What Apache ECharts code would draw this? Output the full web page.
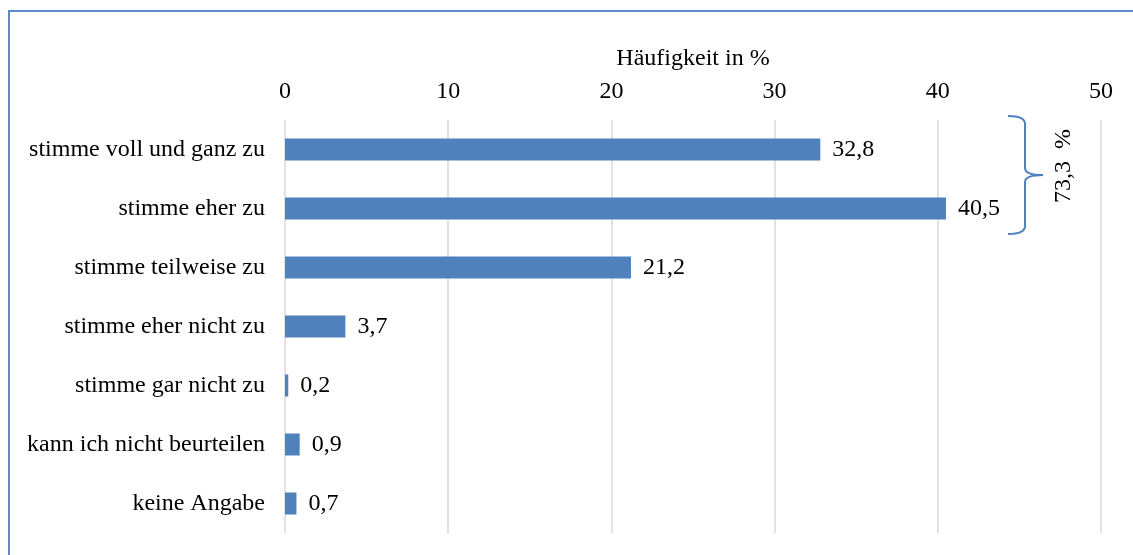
<!DOCTYPE html>
<html>
<head>
<meta charset="utf-8">
<script src="https://cdn.jsdelivr.net/npm/echarts@6/dist/echarts.min.js"></script>
<style>
  html, body { margin: 0; padding: 0; background: #fff; }
  #main { width: 1133px; height: 555px; }
</style>
</head>
<body>
<div id="main"></div>
<script>
// Kategorien (von oben nach unten)
var categories = [
  'stimme voll und ganz zu',
  'stimme eher zu',
  'stimme teilweise zu',
  'stimme eher nicht zu',
  'stimme gar nicht zu',
  'kann ich nicht beurteilen',
  'keine Angabe'
];
// Häufigkeit in %
var values = [32.8, 40.5, 21.2, 3.7, 0.2, 0.9, 0.7];
var axisTicks = [0, 10, 20, 30, 40, 50];
var bracketLabel = '73,3  %';

var serif = '"Liberation Serif", "Times New Roman", serif';
var fs = 24;
var braceStyle = { stroke: '#4f81bd', lineWidth: 2, fill: 'none' };
var chart = echarts.init(document.getElementById('main'));

// geschweifte Klammer rechts neben den ersten beiden Balken
function curve(x1, y1, cx, cy, x2, y2) {
  return { type: 'bezierCurve', shape: { x1: x1, y1: y1, cpx1: cx, cpy1: cy, x2: x2, y2: y2 }, style: braceStyle, silent: true };
}
function seg(x1, y1, x2, y2) {
  return { type: 'line', shape: { x1: x1, y1: y1, x2: x2, y2: y2 }, style: braceStyle, silent: true };
}

chart.setOption({
  animation: false,
  grid: { left: 285, right: 32, top: 120, bottom: 22 },
  xAxis: {
    type: 'value',
    position: 'top',
    min: axisTicks[0],
    max: axisTicks[axisTicks.length - 1],
    interval: 10,
    name: 'Häufigkeit in %',
    nameLocation: 'middle',
    nameGap: 49,
    nameTextStyle: { fontFamily: serif, fontSize: fs, color: '#000' },
    axisLine: { show: false },
    axisTick: { show: false },
    axisLabel: { fontFamily: serif, fontSize: fs, color: '#000', margin: 16 },
    splitLine: { lineStyle: { color: '#d9d9d9', width: 1.5 } }
  },
  yAxis: {
    type: 'category',
    inverse: true,
    data: categories,
    axisLine: { show: false },
    axisTick: { show: false },
    axisLabel: { fontFamily: serif, fontSize: fs, color: '#000', margin: 20 }
  },
  series: [{
    type: 'bar',
    data: values,
    barWidth: 22,
    itemStyle: { color: '#4f81bd' },
    label: {
      show: true,
      position: 'right',
      distance: 12,
      fontFamily: serif,
      fontSize: fs,
      color: '#000',
      formatter: function (p) { return String(p.value).replace('.', ','); }
    }
  }],
  graphic: [
    {
      type: 'rect',
      shape: { x: 9, y: 11, width: 1200, height: 600 },
      style: { fill: 'none', stroke: '#5b8cc8', lineWidth: 2 },
      silent: true
    },
    curve(1008, 116, 1025, 116, 1025, 124),
    seg(1025, 124, 1025, 168),
    curve(1025, 168, 1025, 175, 1043, 175),
    curve(1043, 175, 1025, 175, 1025, 182),
    seg(1025, 182, 1025, 226),
    curve(1025, 226, 1025, 234, 1008, 234),
    {
      type: 'text',
      x: 1064,
      y: 166,
      rotation: Math.PI / 2,
      style: {
        text: bracketLabel,
        fontFamily: serif,
        fontSize: fs,
        fill: '#000',
        align: 'center',
        verticalAlign: 'middle'
      }
    }
  ]
});
</script>
</body>
</html>
